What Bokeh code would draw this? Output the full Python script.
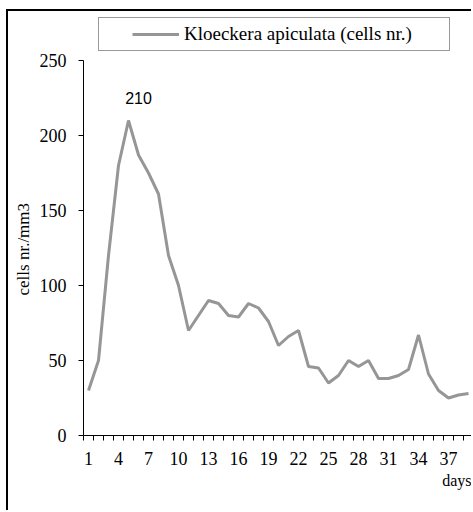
from bokeh.plotting import figure
from bokeh.models import (Range1d, FixedTicker, Legend, LegendItem, Label,
                          Title)
from bokeh.embed import file_html
from bokeh.resources import INLINE

days = list(range(1, 40))
cells = [30, 50, 120, 180, 210, 187, 175, 161, 120, 100, 70, 80, 90, 88, 80,
         79, 88, 85, 76, 60, 66, 70, 46, 45, 35, 40, 50, 46, 50, 38, 38, 40,
         44, 67, 41, 30, 25, 27, 28]
x_tick_days = list(range(1, 40, 3))
y_ticks = [0, 50, 100, 150, 200, 250]
series_name = "Kloeckera apiculata (cells nr.)"
y_title = "cells nr./mm3"
x_title = "days"

SERIF = "Liberation Serif"
SANS = "Liberation Sans"

# canvas layout (the canvas starts at page (8, 11) because of the CSS frame)
W, H = 465, 501
LEFT, BOTTOM = 75, 77
frame_h = H - BOTTOM            # frame reaches the canvas top
axis_px = 375                   # pixel height of the 0..250 axis
y_max_view = y_ticks[-1] * frame_h / axis_px

p = figure(width=W, height=H, output_backend="svg", toolbar_location=None,
           x_range=Range1d(0.5, 39.5), y_range=Range1d(0, y_max_view),
           min_border_left=LEFT, min_border_right=0, min_border_top=0,
           min_border_bottom=BOTTOM)
p.styles = {"margin-left": "6px", "margin-top": "9px",
            "border-left": "2px solid black", "border-top": "2px solid black"}
p.outline_line_color = None
p.xgrid.grid_line_color = None
p.ygrid.grid_line_color = None
p.background_fill_color = "white"
p.border_fill_color = "white"

r = p.line(days, cells, line_color="#969696", line_width=3)

# x axis
xa = p.xaxis[0]
xa.ticker = FixedTicker(ticks=x_tick_days,
                        minor_ticks=[d - 0.5 for d in range(1, 41)])
xa.major_tick_out = 0
xa.major_tick_in = 0
xa.minor_tick_out = 5
xa.minor_tick_in = 0
xa.minor_tick_line_color = "black"
xa.axis_line_color = "black"
xa.major_label_text_font = SERIF
xa.major_label_text_font_size = "18px"
xa.major_label_text_color = "black"
xa.major_label_standoff = 11

# y axis
ya = p.yaxis[0]
ya.ticker = FixedTicker(ticks=y_ticks)
ya.bounds = (y_ticks[0], y_ticks[-1])
ya.major_tick_out = 5
ya.major_tick_in = 0
ya.minor_tick_out = 0
ya.minor_tick_in = 0
ya.axis_line_color = "black"
ya.major_label_text_font = SERIF
ya.major_label_text_font_size = "18px"
ya.major_label_text_color = "black"
ya.major_label_standoff = 12

# y title (left side panel), starting 140 px above the x axis
p.add_layout(Title(text=y_title, align="left", offset=140,
                   text_font=SERIF, text_font_size="17px",
                   text_font_style="normal", text_color="black",
                   standoff=7), "left")

# x title at the right end, below the tick labels
p.add_layout(Title(text=x_title, align="right", text_font=SERIF,
                   text_font_size="16px", text_font_style="normal",
                   text_color="black", standoff=5, offset=2), "below")

# peak data label
peak = max(cells)
peak_day = days[cells.index(peak)]
p.add_layout(Label(x=peak_day, y=peak, x_offset=10, y_offset=23,
                   text=str(peak), text_align="center",
                   text_baseline="alphabetic", text_font=SANS,
                   text_font_size="16px", text_color="black"))

# legend
legend = Legend(items=[LegendItem(label=series_name, renderers=[r])],
                title=" ", title_location="left", title_standoff=10,
                title_text_font_size="16px",
                location=(15, 384), padding=5, glyph_width=47,
                glyph_height=20, label_height=20, label_standoff=5,
                label_width=260,
                label_text_font=SERIF, label_text_font_size="19px",
                label_text_color="black", border_line_color="#333333",
                border_line_width=1, background_fill_alpha=0, margin=0)
p.add_layout(legend, "center")

open("out.html", "w").write(file_html(p, INLINE))
